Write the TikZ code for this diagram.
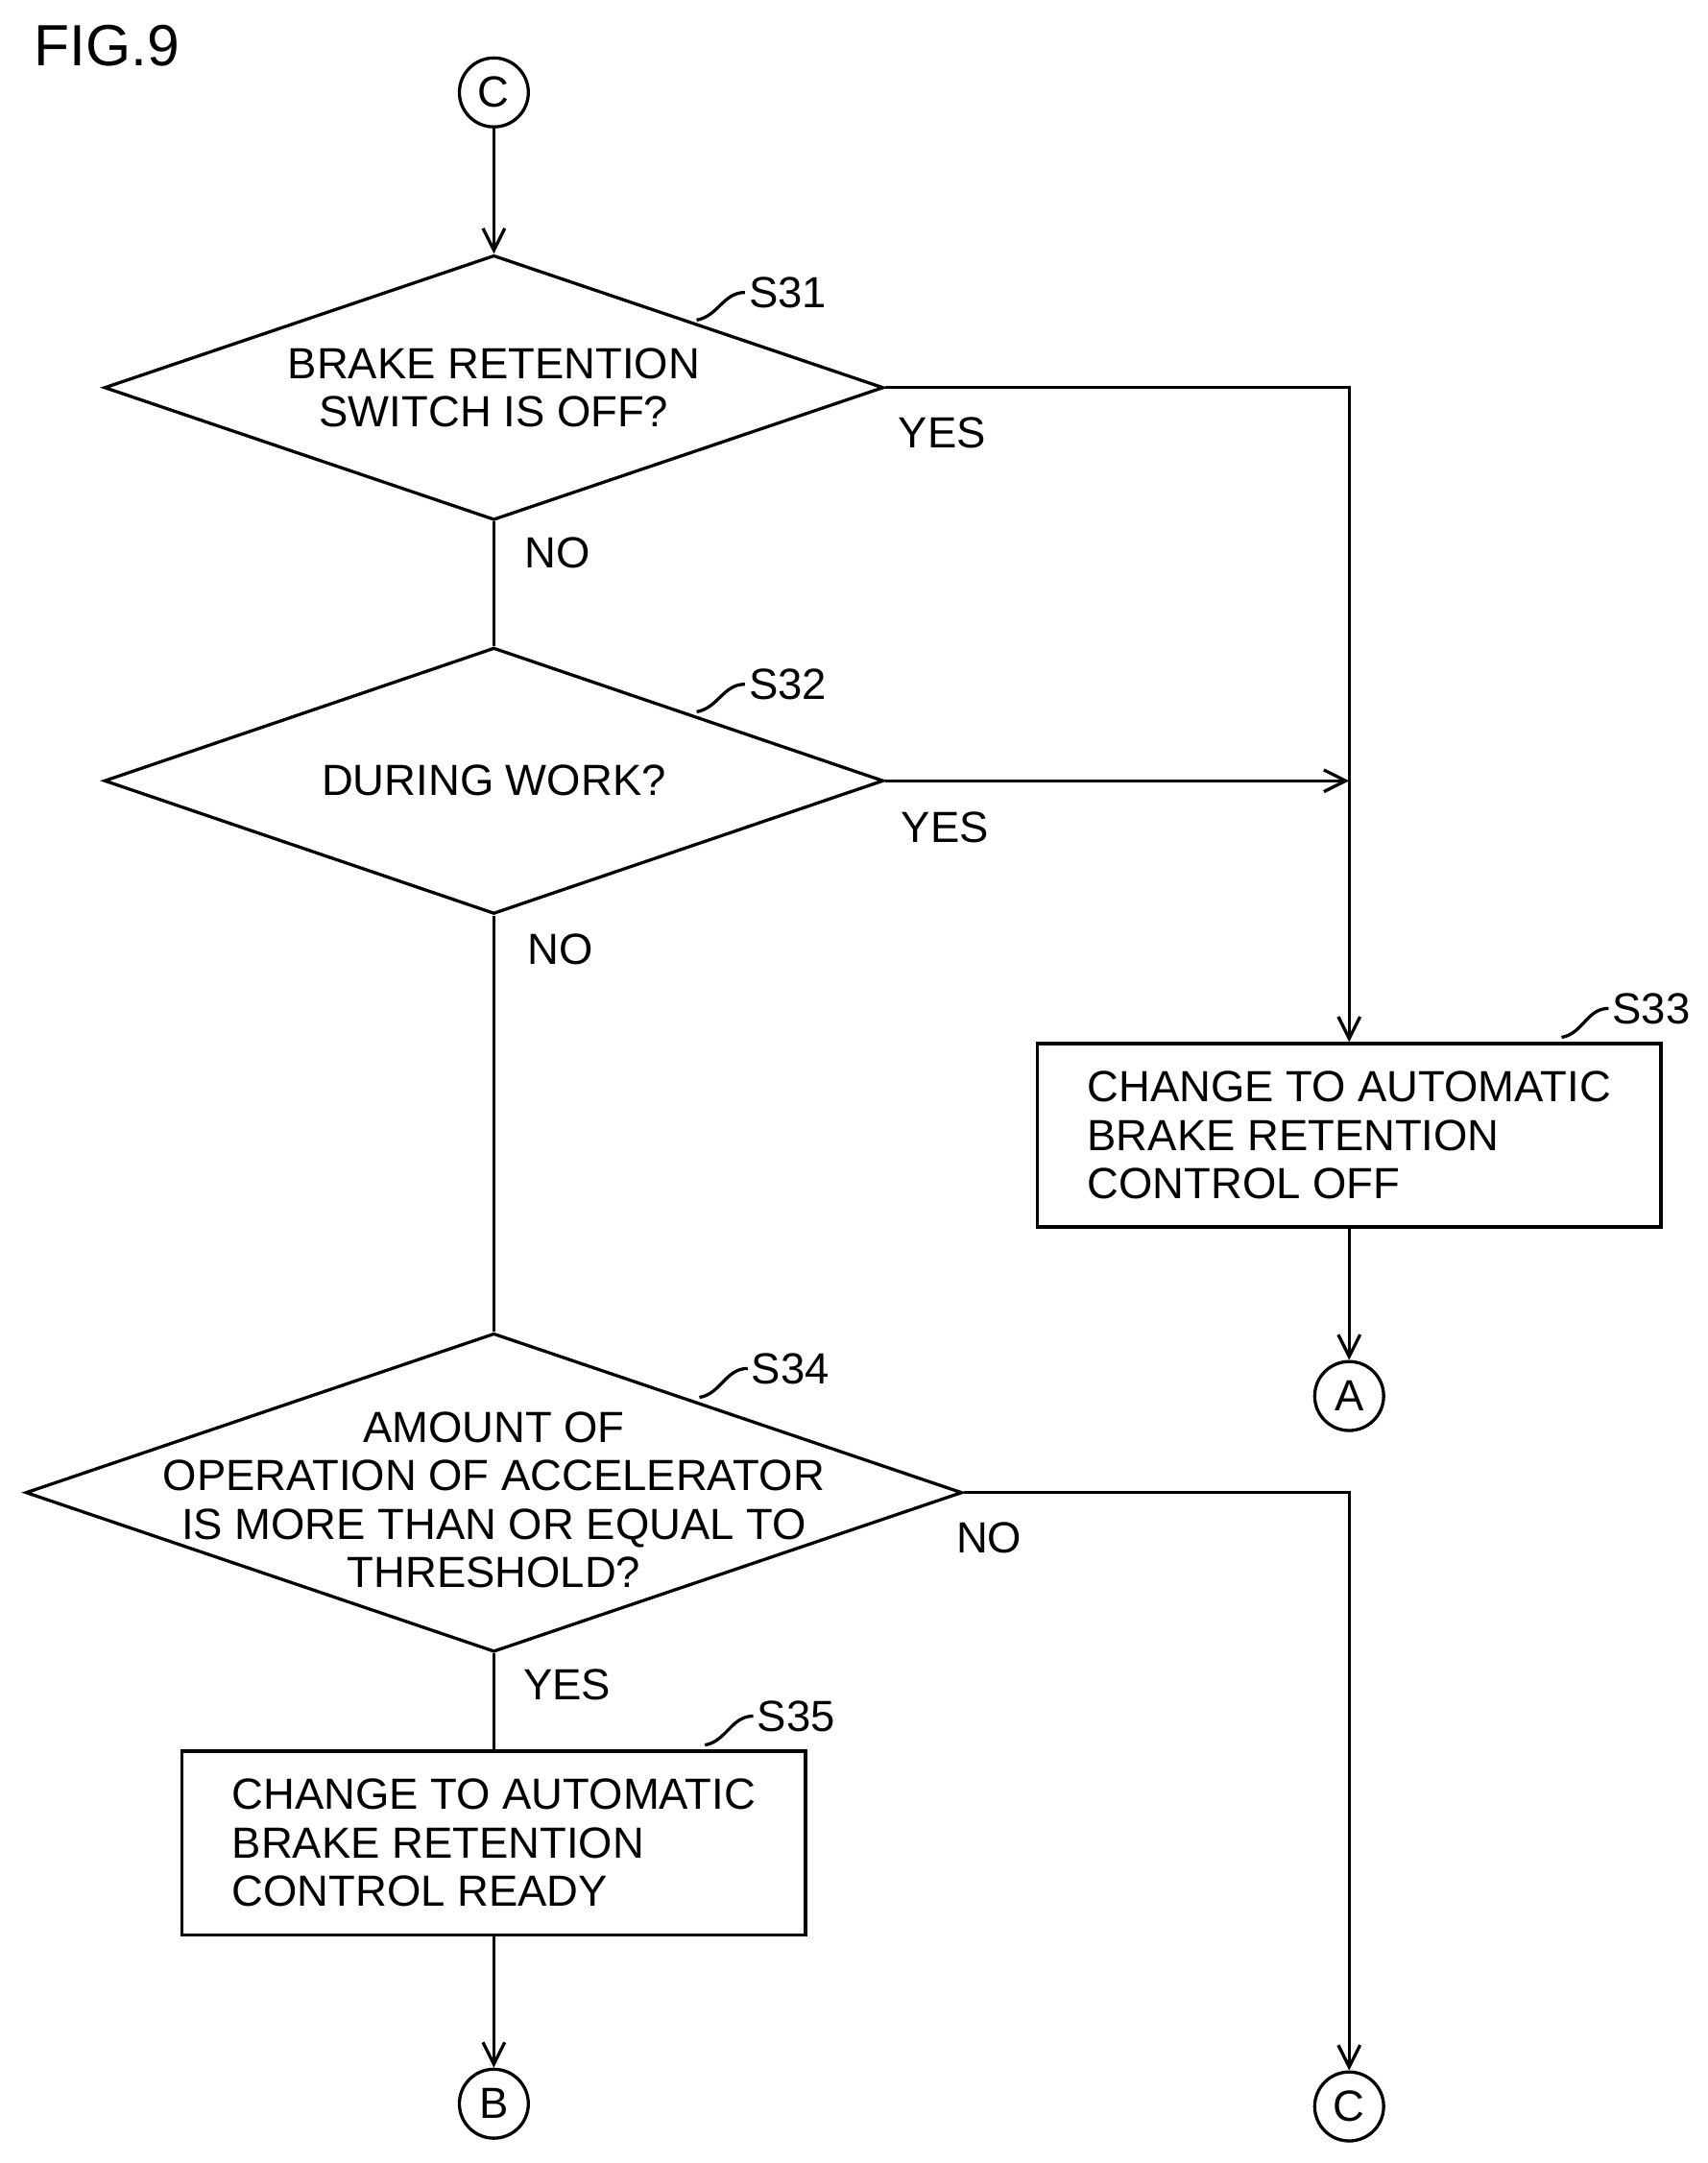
\documentclass[tikz,border=0pt]{standalone}
\usepackage{fontspec}
\setmainfont{Liberation Sans}
\usetikzlibrary{shapes.geometric, arrows.meta, positioning}
\begin{document}
\begin{tikzpicture}[x=0.02cm, y=-0.02cm, line width=1.3pt,
    >={Straight Barb[length=9pt,width=9pt]},
    every node/.style={font=\fontsize{18}{20}\selectfont},
    every label/.style={align=center, inner sep=0pt},
    dec/.style={diamond, draw, inner sep=0pt},
    proc/.style={rectangle, draw, minimum width=9.04cm, minimum height=2.66cm,
      align=left},
    conn/.style={circle, draw, minimum size=1cm, inner sep=0pt},
    steplbl/.style={anchor=west, inner sep=1pt}]
  \useasboundingbox (0,0) rectangle (1238,1568);
  \node[anchor=west, font=\fontsize{24}{26}\selectfont] (fig) at (18,33) {FIG.9};
  % connectors
  \node[conn] (c1) at (358,67)   {C};
  \node[conn] (ca) at (978,1012) {A};
  \node[conn] (cb) at (358,1525) {B};
  \node[conn] (c2) at (978,1527) {C};
  % decisions
  \node[dec, minimum width=11.3cm, minimum height=3.84cm,
    label=center:{BRAKE RETENTION\\SWITCH IS OFF?}] (s31) at (358,281) {};
  \node[dec, minimum width=11.3cm, minimum height=3.86cm,
    label=center:{DURING WORK?}] (s32) at (358,566) {};
  \node[dec, minimum width=13.58cm, minimum height=4.62cm,
    label={[yshift=-3pt]center:{AMOUNT OF\\OPERATION OF ACCELERATOR\\IS MORE THAN OR EQUAL TO\\THRESHOLD?}}]
    (s34) at (358,1082) {};
  % processes
  \node[proc] (s33) at (978,823)
    {CHANGE TO AUTOMATIC\\BRAKE RETENTION\\CONTROL OFF};
  \node[proc] (s35) at (358,1336)
    {CHANGE TO AUTOMATIC\\BRAKE RETENTION\\CONTROL READY};
  % step labels
  \node[steplbl] (l31) at (540,212)  {S31};
  \node[steplbl] (l32) at (540,496)  {S32};
  \node[steplbl] (l33) at (1166,731) {S33};
  \node[steplbl] (l34) at (542,992)  {S34};
  \node[steplbl] (l35) at (546,1244) {S35};
  \draw (505,232) to[out=10,in=180] (l31.west);
  \draw (505,516) to[out=10,in=180] (l32.west);
  \draw (1132,752) to[out=10,in=180] (l33.west);
  \draw (507,1013) to[out=10,in=180] (l34.west);
  \draw (511,1265) to[out=10,in=180] (l35.west);
  % flow
  \draw[->] (c1) -- (s31.north);
  \draw[->] (s31.east) -| (s33.north);
  \draw[->] (s32.east) -- (s32.east -| s33.north);
  \draw (s31.south) -- (s32.north);
  \draw (s32.south) -- (s34.north);
  \draw[->] (s33.south) -- (ca);
  \draw[->] (s34.east) -| (c2.north);
  \draw (s34.south) -- (s35.north);
  \draw[->] (s35.south) -- (cb);
  % branch labels
  \node (y31) at (683,314)  {YES};
  \node (n31) at (404,401)  {NO};
  \node (y32) at (685,600)  {YES};
  \node (n32) at (406,688)  {NO};
  \node (n34) at (717,1115) {NO};
  \node (y34) at (411,1221) {YES};
\end{tikzpicture}
\end{document}
